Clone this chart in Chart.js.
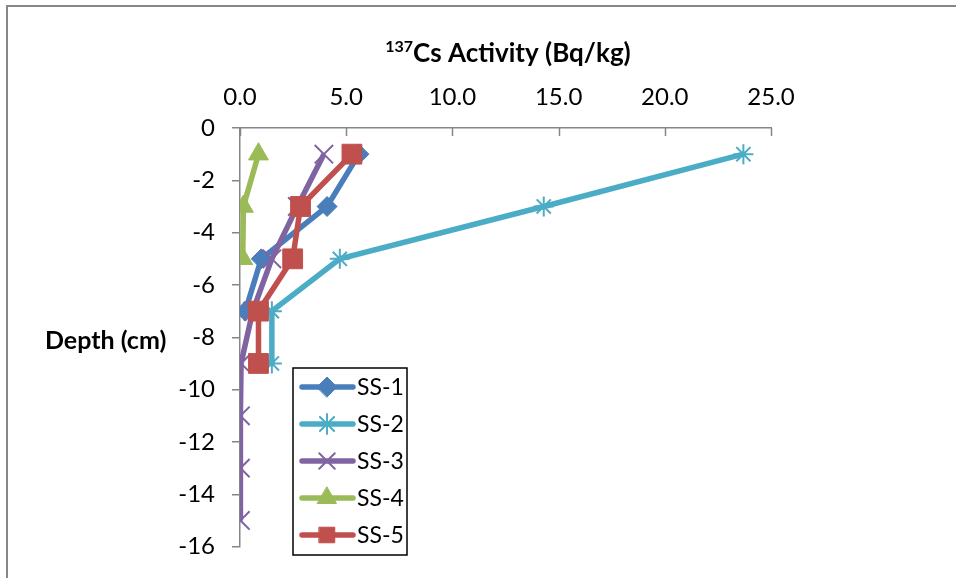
<!DOCTYPE html>
<html>
<head>
<meta charset="utf-8">
<script src="https://cdn.jsdelivr.net/npm/chart.js@4/dist/chart.umd.min.js"></script>
<style>
  body { margin: 0; background: #fff; }
  #wrap { width: 956px; height: 578px; }
</style>
</head>
<body>
<div id="wrap"><canvas id="csChart" width="956" height="578"></canvas></div>
<script>
// depth (cm) of each sample, per site
const SS1_DEPTH = [-1, -3, -5, -7];
const SS2_DEPTH = [-1, -3, -5, -7, -9];
const SS3_DEPTH = [-1, -3, -5, -7, -9, -11, -13, -15];
const SS4_DEPTH = [-1, -3, -5];
const SS5_DEPTH = [-1, -3, -5, -7, -9];

// 137Cs activity (Bq/kg)
const SS1_ACT = [5.6, 4.1, 1.0, 0.25];
const SS2_ACT = [23.7, 14.3, 4.7, 1.5, 1.5];
const SS3_ACT = [3.95, 2.7, 1.5, 0.6, 0.05, 0.02, 0.02, 0.02];
const SS4_ACT = [0.87, 0.16, 0.13];
const SS5_ACT = [5.27, 2.85, 2.48, 0.87, 0.87];

const SERIES = ['SS-1', 'SS-2', 'SS-3', 'SS-4', 'SS-5'];
const X_TICKS = [0, 5, 10, 15, 20, 25];
const Y_MIN = -16, Y_MAX = 0, Y_STEP = 2;

const COLORS = {
    blue: '#4A7EBB',
    cyan: '#4BACC6',
    purple: '#8064A2',
    green: '#9BBB59',
    red: '#C0504D'
};

const FONT = 'Lato, "Open Sans", sans-serif';

const pts = (xs, ys) => xs.map((v, i) => ({x: v, y: ys[i]}));

const STYLES = [
    {color: COLORS.blue, pointStyle: 'rectRot', radius: 10, bw: 1},
    {color: COLORS.cyan, pointStyle: 'star', radius: 10, bw: 2},
    {color: COLORS.purple, pointStyle: 'crossRot', radius: 13, bw: 2},
    {color: COLORS.green, pointStyle: 'triangle', radius: 11.5, bw: 1},
    {color: COLORS.red, pointStyle: 'rect', radius: 14, bw: 1}
];

const seriesData = [
    pts(SS1_ACT, SS1_DEPTH),
    pts(SS2_ACT, SS2_DEPTH),
    pts(SS3_ACT, SS3_DEPTH),
    pts(SS4_ACT, SS4_DEPTH),
    pts(SS5_ACT, SS5_DEPTH)
];

const datasets = SERIES.map((name, i) => ({
    label: name,
    data: seriesData[i],
    showLine: true,
    borderColor: STYLES[i].color,
    backgroundColor: STYLES[i].color,
    borderWidth: 5.5,
    pointStyle: STYLES[i].pointStyle,
    pointRadius: STYLES[i].radius,
    pointBorderWidth: STYLES[i].bw,
    pointBorderColor: STYLES[i].color,
    pointBackgroundColor: STYLES[i].color,
    order: SERIES.length - i
}));

// frame, titles, inward x ticks and the boxed legend
const decorations = {
    id: 'decorations',
    beforeDatasetsDraw(chart) {
        const ctx = chart.ctx;
        const xs = chart.scales.x;
        const area = chart.chartArea;
        ctx.save();
        ctx.strokeStyle = '#868686';
        ctx.lineWidth = 1.5;
        X_TICKS.forEach(v => {
            const px = Math.round(xs.getPixelForValue(v)) + 0.5;
            ctx.beginPath();
            ctx.moveTo(px, area.top);
            ctx.lineTo(px, area.top + 8);
            ctx.stroke();
        });
        ctx.restore();
    },
    afterDraw(chart) {
        const ctx = chart.ctx;
        ctx.save();

        // outer frame
        ctx.strokeStyle = '#878787';
        ctx.lineWidth = 2;
        ctx.beginPath();
        ctx.moveTo(7, 578);
        ctx.lineTo(7, 6);
        ctx.lineTo(956, 6);
        ctx.stroke();

        // title with superscript
        ctx.fillStyle = '#000';
        ctx.textBaseline = 'alphabetic';
        const big = 'bold 26px ' + FONT;
        const small = 'bold 16px ' + FONT;
        const main = 'Cs Activity (Bq/kg)';
        ctx.font = small;
        const supW = ctx.measureText('137').width;
        ctx.font = big;
        const mainW = ctx.measureText(main).width;
        const cx = 508;
        const left = cx - (supW + mainW) / 2;
        ctx.font = small;
        ctx.fillText('137', left, 52);
        ctx.font = big;
        ctx.fillText(main, left + supW, 62);

        // y axis title, horizontal
        ctx.font = 'bold 25px ' + FONT;
        ctx.textAlign = 'left';
        ctx.textBaseline = 'middle';
        ctx.fillText('Depth (cm)', 45, 341);

        // legend
        const lx = 293, ly = 368, lw = 114, lh = 187;
        ctx.fillStyle = '#fff';
        ctx.fillRect(lx, ly, lw, lh);
        ctx.strokeStyle = '#000';
        ctx.lineWidth = 1.5;
        ctx.strokeRect(lx, ly, lw, lh);
        ctx.font = '23px ' + FONT;
        SERIES.forEach((name, i) => {
            const y = 387 + i * 37;
            const st = STYLES[i];
            ctx.strokeStyle = st.color;
            ctx.lineWidth = 5.5;
            ctx.lineCap = 'round';
            ctx.beginPath();
            ctx.moveTo(302, y);
            ctx.lineTo(353, y);
            ctx.stroke();
            if (Chart.helpers && Chart.helpers.drawPoint) {
                ctx.fillStyle = st.color;
                ctx.lineWidth = st.bw;
                Chart.helpers.drawPoint(ctx, {
                    pointStyle: st.pointStyle,
                    radius: Math.min(st.radius, 11),
                    rotation: 0,
                    borderWidth: st.bw
                }, 327, y);
            }
            ctx.fillStyle = '#000';
            ctx.fillText(name, 357, y + 1);
        });
        ctx.restore();
    }
};

new Chart(document.getElementById('csChart'), {
    type: 'scatter',
    data: {datasets: datasets},
    options: {
        responsive: false,
        animation: false,
        layout: {padding: {left: 0, right: 185, top: 0, bottom: 27}},
        plugins: {
            legend: {display: false},
            tooltip: {enabled: false}
        },
        elements: {line: {tension: 0}},
        scales: {
            x: {
                type: 'linear',
                position: 'top',
                min: 0,
                max: 25,
                afterFit: (s) => { s.height = 128; },
                afterBuildTicks: (s) => { s.ticks = X_TICKS.map(v => ({value: v})); },
                ticks: {
                    color: '#000',
                    font: {family: FONT, size: 24},
                    padding: 16,
                    callback: (v) => Number(v).toFixed(1)
                },
                grid: {display: false, drawTicks: false},
                border: {display: true, color: '#868686', width: 1.5}
            },
            y: {
                type: 'linear',
                min: Y_MIN,
                max: Y_MAX,
                afterFit: (s) => { s.width = 240; },
                ticks: {
                    stepSize: Y_STEP,
                    color: '#000',
                    font: {family: FONT, size: 24},
                    padding: 17
                },
                grid: {drawOnChartArea: false, drawTicks: true, tickLength: 8, color: '#868686', lineWidth: 1.5},
                border: {display: true, color: '#868686', width: 1.5}
            }
        }
    },
    plugins: [decorations]
});
</script>
</body>
</html>
